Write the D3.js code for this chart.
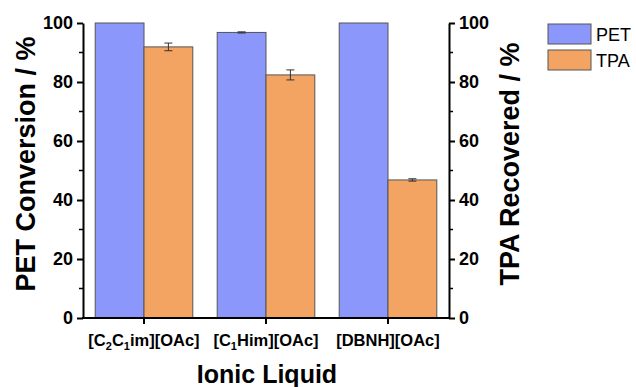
<!DOCTYPE html>
<html>
<head>
<meta charset="utf-8">
<script src="https://cdn.jsdelivr.net/npm/d3@7"></script>
<style>
  body { margin: 0; background: #fff; }
  text { font-family: Arial, "Liberation Sans", sans-serif; }
</style>
</head>
<body>
<div id="chart"></div>
<script>
// Data
const liquids = ["C2C1im", "C1Him", "DBNH"];
const series = ["PET", "TPA"];
const petValues = [100, 96.8, 100];
const petErrors = [0, 0.2, 0];
const tpaValues = [91.9, 82.4, 46.8];
const tpaErrors = [1.3, 1.7, 0.4];
const yTicks = [0, 20, 40, 60, 80, 100];
const minorTicks = [10, 30, 50, 70, 90];

// label pieces: [text, isSubscript]
const catLabels = {
    C2C1im: [["[C", false], ["2", true], ["C", false], ["1", true], ["im][OAc]", false]],
    C1Him: [["[C", false], ["1", true], ["Him][OAc]", false]],
    DBNH: [["[DBNH][OAc]", false]]
};

const width = 636, height = 387;
const m = { top: 23, right: 187, bottom: 69, left: 83 };
const colors = { PET: "#8c97fb", TPA: "#f4a462" };

const svg = d3.select("#chart").append("svg")
    .attr("width", width)
    .attr("height", height);

const x0 = d3.scaleBand()
    .domain(liquids)
    .range([m.left, width - m.right])
    .paddingInner(0.2)
    .paddingOuter(0.1);

const x1 = d3.scaleBand()
    .domain(series)
    .range([0, x0.bandwidth()]);

const y = d3.scaleLinear()
    .domain([0, 100])
    .range([height - m.bottom, m.top]);

const rows = liquids.flatMap((l, i) => [
    { liquid: l, key: "PET", value: petValues[i], err: petErrors[i] },
    { liquid: l, key: "TPA", value: tpaValues[i], err: tpaErrors[i] }
]);

// Bars
svg.append("g").selectAll("rect")
    .data(rows)
    .join("rect")
    .attr("x", d => x0(d.liquid) + x1(d.key))
    .attr("y", d => y(d.value))
    .attr("width", x1.bandwidth())
    .attr("height", d => y(0) - y(d.value))
    .attr("fill", d => colors[d.key])
    .attr("stroke", "#555")
    .attr("stroke-width", 1);

// Error bars
const cx = d => x0(d.liquid) + x1(d.key) + x1.bandwidth() / 2;
const eb = svg.append("g").attr("stroke", "#333").attr("stroke-width", 1)
    .selectAll("g").data(rows.filter(d => d.err > 0)).join("g");
eb.append("line")
    .attr("x1", cx).attr("x2", cx)
    .attr("y1", d => y(d.value - d.err))
    .attr("y2", d => y(d.value + d.err));
[1, -1].forEach(s => {
    eb.append("line")
        .attr("x1", d => cx(d) - 4)
        .attr("x2", d => cx(d) + 4)
        .attr("y1", d => y(d.value + s * d.err))
        .attr("y2", d => y(d.value + s * d.err));
});

// Axes
function styleAxis(g) {
    g.selectAll("path, line").attr("stroke", "#000").attr("stroke-width", 2);
    g.selectAll("text").attr("font-size", 18).attr("font-weight", "bold").attr("fill", "#000");
}

const left = svg.append("g")
    .attr("transform", `translate(${m.left},0)`)
    .call(d3.axisLeft(y).tickValues(yTicks).tickSize(6).tickSizeOuter(0).tickPadding(4));
styleAxis(left);
left.selectAll(".minor").data(minorTicks).join("line")
    .attr("x1", 0).attr("x2", -4)
    .attr("y1", d => y(d)).attr("y2", d => y(d))
    .attr("stroke", "#000").attr("stroke-width", 1.5);

const right = svg.append("g")
    .attr("transform", `translate(${width - m.right},0)`)
    .call(d3.axisRight(y).tickValues(yTicks).tickSize(6).tickSizeOuter(0).tickPadding(4));
styleAxis(right);
right.selectAll(".minor").data(minorTicks).join("line")
    .attr("x1", 0).attr("x2", 4)
    .attr("y1", d => y(d)).attr("y2", d => y(d))
    .attr("stroke", "#000").attr("stroke-width", 1.5);

// Bottom axis: ticks at group centres
const bottom = svg.append("g")
    .attr("transform", `translate(0,${height - m.bottom})`);
bottom.append("line")
    .attr("x1", m.left - 1).attr("x2", width - m.right + 1)
    .attr("stroke", "#000").attr("stroke-width", 2);
bottom.selectAll(".tick").data(liquids).join("line")
    .attr("x1", d => x0(d) + x0.bandwidth() / 2)
    .attr("x2", d => x0(d) + x0.bandwidth() / 2)
    .attr("y1", 0).attr("y2", 6)
    .attr("stroke", "#000").attr("stroke-width", 2);

// Category labels with subscripts
liquids.forEach(l => {
    const t = bottom.append("text")
        .attr("x", x0(l) + x0.bandwidth() / 2)
        .attr("y", 28)
        .attr("text-anchor", "middle")
        .attr("font-size", 16.5)
        .attr("font-weight", "bold");
    let shifted = false;
    catLabels[l].forEach(([s, sub]) => {
        const ts = t.append("tspan").text(s);
        if (sub) {
            ts.attr("font-size", 11).attr("dy", shifted ? 0 : 4);
            shifted = true;
        } else {
            ts.attr("dy", shifted ? -4 : 0);
            shifted = false;
        }
    });
});

// Axis titles
const midY = 164;
svg.append("text")
    .attr("transform", `translate(35,${midY}) rotate(-90)`)
    .attr("text-anchor", "middle")
    .attr("font-size", 27)
    .attr("font-weight", "bold")
    .text("PET Conversion / %");

svg.append("text")
    .attr("transform", `translate(519,${midY}) rotate(-90)`)
    .attr("text-anchor", "middle")
    .attr("font-size", 27)
    .attr("font-weight", "bold")
    .text("TPA Recovered / %");

svg.append("text")
    .attr("x", 267)
    .attr("y", 383)
    .attr("text-anchor", "middle")
    .attr("font-size", 25)
    .attr("font-weight", "bold")
    .text("Ionic Liquid");

// Legend
const legend = svg.append("g").attr("transform", "translate(548,24)");
series.forEach((s, i) => {
    legend.append("rect")
        .attr("x", 0).attr("y", i * 26)
        .attr("width", 43).attr("height", 20)
        .attr("fill", colors[s])
        .attr("stroke", "#555");
    legend.append("text")
        .attr("x", 48).attr("y", i * 26 + 17)
        .attr("font-size", 18)
        .text(s);
});
</script>
</body>
</html>
